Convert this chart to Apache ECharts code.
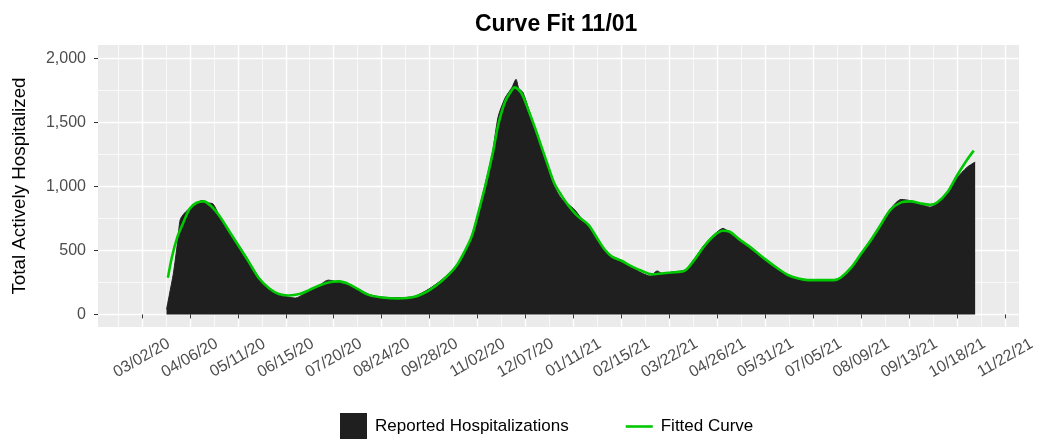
<!DOCTYPE html>
<html>
<head>
<meta charset="utf-8">
<script src="https://cdn.jsdelivr.net/npm/echarts@6/dist/echarts.min.js"></script>
<style>
    html, body { margin: 0; padding: 0; background: #fff; }
    #main { width: 1040px; height: 439px; }
</style>
</head>
<body>
<div id="main"></div>
<script>
// reported daily hospitalizations
var repDates = ['2020-03-20', '2020-03-22', '2020-03-25', '2020-03-28', '2020-03-30', '2020-04-02', '2020-04-06', '2020-04-11',
    '2020-04-15', '2020-04-19', '2020-04-23', '2020-04-28', '2020-05-05', '2020-05-12', '2020-05-19', '2020-05-26',
    '2020-06-03', '2020-06-10', '2020-06-17', '2020-06-22', '2020-06-28', '2020-07-04', '2020-07-10', '2020-07-16',
    '2020-07-23', '2020-07-31', '2020-08-07', '2020-08-15', '2020-08-24', '2020-09-05', '2020-09-17', '2020-09-27',
    '2020-10-07', '2020-10-17', '2020-10-24', '2020-10-29', '2020-11-03', '2020-11-08', '2020-11-13', '2020-11-17',
    '2020-11-22', '2020-11-27', '2020-11-30', '2020-12-02', '2020-12-05', '2020-12-09', '2020-12-14', '2020-12-19',
    '2020-12-23', '2020-12-28', '2021-01-02', '2021-01-07', '2021-01-12', '2021-01-16', '2021-01-22', '2021-01-29',
    '2021-02-03', '2021-02-08', '2021-02-15', '2021-02-22', '2021-03-02', '2021-03-08', '2021-03-13', '2021-03-17',
    '2021-03-23', '2021-04-02', '2021-04-09', '2021-04-16', '2021-04-24', '2021-04-30', '2021-05-05', '2021-05-11',
    '2021-05-21', '2021-05-30', '2021-06-09', '2021-06-16', '2021-06-24', '2021-07-01', '2021-07-11', '2021-07-20',
    '2021-07-25', '2021-08-02', '2021-08-09', '2021-08-16', '2021-08-23', '2021-08-30', '2021-09-07', '2021-09-14',
    '2021-09-21', '2021-09-28', '2021-10-03', '2021-10-11', '2021-10-18', '2021-10-25', '2021-10-31'];
var repValues = [40, 150, 320, 560, 740, 790, 830, 868,
    890, 872, 862, 758, 640, 538, 418, 296,
    198, 152, 136, 128, 158, 195, 232, 268,
    252, 232, 198, 155, 136, 130, 142, 196,
    272, 378, 498, 628, 822, 1040, 1275, 1545,
    1690, 1772, 1836, 1765, 1735, 1610, 1440, 1285,
    1150, 1000, 905, 862, 815, 760, 695, 575,
    500, 455, 422, 372, 322, 300, 340, 318,
    330, 345, 432, 538, 628, 672, 640, 588,
    522, 432, 362, 305, 282, 270, 266, 272,
    285, 368, 482, 588, 702, 822, 898, 888,
    862, 838, 868, 948, 1068, 1148, 1190];

// fitted curve
var fitDates = ['2020-03-21', '2020-03-24', '2020-03-28', '2020-04-01', '2020-04-06', '2020-04-11', '2020-04-16', '2020-04-22',
    '2020-04-28', '2020-05-05', '2020-05-12', '2020-05-19', '2020-05-26', '2020-06-03', '2020-06-10', '2020-06-17',
    '2020-06-25', '2020-07-02', '2020-07-09', '2020-07-16', '2020-07-24', '2020-07-31', '2020-08-07', '2020-08-15',
    '2020-08-24', '2020-09-05', '2020-09-17', '2020-09-27', '2020-10-07', '2020-10-17', '2020-10-24', '2020-10-29',
    '2020-11-03', '2020-11-08', '2020-11-13', '2020-11-17', '2020-11-22', '2020-11-27', '2020-11-29', '2020-12-04',
    '2020-12-09', '2020-12-14', '2020-12-19', '2020-12-24', '2020-12-28', '2021-01-02', '2021-01-07', '2021-01-14',
    '2021-01-22', '2021-01-29', '2021-02-03', '2021-02-08', '2021-02-15', '2021-02-22', '2021-03-02', '2021-03-09',
    '2021-03-16', '2021-03-23', '2021-04-02', '2021-04-09', '2021-04-16', '2021-04-24', '2021-04-30', '2021-05-05',
    '2021-05-11', '2021-05-21', '2021-05-30', '2021-06-09', '2021-06-16', '2021-06-24', '2021-07-01', '2021-07-11',
    '2021-07-20', '2021-07-25', '2021-08-02', '2021-08-09', '2021-08-16', '2021-08-23', '2021-08-30', '2021-09-07',
    '2021-09-14', '2021-09-21', '2021-09-28', '2021-10-03', '2021-10-11', '2021-10-18', '2021-10-25', '2021-10-30'];
var fitValues = [286, 450, 607, 711, 828, 872, 883, 841,
    763, 646, 529, 411, 289, 203, 159, 148,
    159, 190, 224, 250, 258, 237, 195, 151,
    133, 125, 138, 185, 263, 372, 503, 620,
    815, 1023, 1258, 1479, 1661, 1753, 1773, 1727,
    1596, 1453, 1297, 1141, 1023, 932, 854, 768,
    698, 581, 503, 451, 419, 378, 339, 313,
    320, 328, 341, 424, 529, 620, 654, 646,
    594, 516, 438, 359, 310, 280, 268, 268,
    268, 289, 372, 477, 581, 698, 815, 875,
    883, 867, 857, 872, 958, 1089, 1206, 1279];

var xTicks = ['2020-03-02', '2020-04-06', '2020-05-11', '2020-06-15', '2020-07-20', '2020-08-24', '2020-09-28',
    '2020-11-02', '2020-12-07', '2021-01-11', '2021-02-15', '2021-03-22', '2021-04-26', '2021-05-31',
    '2021-07-05', '2021-08-09', '2021-09-13', '2021-10-18', '2021-11-22'];
var yTicks = [0, 500, 1000, 1500, 2000];
var yMinor = [250, 750, 1250, 1750];

function d(s) {
    var p = s.split('-');
    return Date.UTC(+p[0], +p[1] - 1, +p[2]);
}

function pad(n) {
    return n < 10 ? '0' + n : '' + n;
}

function fmtDate(v) {
    var t = new Date(v);
    return pad(t.getUTCMonth() + 1) + '/' + pad(t.getUTCDate()) + '/' + pad(t.getUTCFullYear() % 100);
}

function pair(dates, values) {
    var out = [];
    for (var i = 0; i < dates.length; i++) {
        out.push([d(dates[i]), values[i]]);
    }
    return out;
}

var xTickVals = xTicks.map(d);
// minor grid lines halfway between the labelled dates
var xMinorVals = [xTickVals[0] - (xTickVals[1] - xTickVals[0]) / 2];
for (var i = 1; i < xTickVals.length; i++) {
    xMinorVals.push((xTickVals[i - 1] + xTickVals[i]) / 2);
}

var xMin = d('2020-01-30');
var xMax = d('2021-12-02');
var yMin = -98;
var yMax = 2104;

var myChart = echarts.init(document.getElementById('main'));
var option = {
    animation: false,
    backgroundColor: '#fff',
    textStyle: {
        fontFamily: 'Liberation Sans, Arial, sans-serif'
    },
    title: {
        text: 'Curve Fit 11/01',
        left: 475,
        top: 13,
        padding: 0,
        textStyle: {
            fontSize: 23,
            fontWeight: 'bold',
            color: '#000'
        }
    },
    legend: {
        left: 340,
        top: 413,
        padding: 0,
        itemWidth: 27,
        itemHeight: 27,
        itemGap: 57,
        textStyle: {
            fontSize: 17,
            color: '#000',
            padding: [0, 0, 0, 3]
        },
        data: [
            { name: 'Reported Hospitalizations', icon: 'rect' },
            { name: 'Fitted Curve', icon: 'path://M0,0 H27 V2.6 H0 Z' }
        ]
    },
    grid: {
        left: 98,
        right: 21,
        top: 45,
        bottom: 112,
        show: true,
        backgroundColor: '#ebebeb',
        borderWidth: 0,
        outerBoundsMode: 'none'
    },
    xAxis: [{
        type: 'value',
        min: xMin,
        max: xMax,
        axisLine: { show: false },
        axisTick: {
            show: true,
            customValues: xTickVals,
            length: 4,
            lineStyle: { color: '#333', width: 1 }
        },
        axisLabel: {
            customValues: xTickVals,
            formatter: function (v) { return fmtDate(v); },
            rotate: 30,
            align: 'center',
            verticalAlign: 'middle',
            margin: 31,
            fontSize: 16,
            color: '#4d4d4d',
            hideOverlap: false
        },
        splitLine: {
            show: true,
            lineStyle: { color: '#fff', width: 1.4 }
        }
    }, {
        type: 'value',
        min: xMin,
        max: xMax,
        position: 'bottom',
        axisLine: { show: false },
        axisTick: { show: false, customValues: xMinorVals },
        axisLabel: { show: false, customValues: xMinorVals },
        splitLine: {
            show: true,
            lineStyle: { color: '#fff', width: 0.7 }
        }
    }],
    yAxis: [{
        type: 'value',
        min: yMin,
        max: yMax,
        name: 'Total Actively Hospitalized',
        nameLocation: 'middle',
        nameGap: 69,
        nameTextStyle: {
            fontSize: 18.8,
            color: '#000'
        },
        axisLine: { show: false },
        axisTick: {
            show: true,
            customValues: yTicks,
            length: 4,
            lineStyle: { color: '#333', width: 1 }
        },
        axisLabel: {
            customValues: yTicks,
            formatter: function (v) { return String(v).replace(/\B(?=(\d{3})+(?!\d))/g, ','); },
            margin: 12,
            fontSize: 16,
            color: '#4d4d4d'
        },
        splitLine: {
            show: true,
            lineStyle: { color: '#fff', width: 1.4 }
        }
    }, {
        type: 'value',
        min: yMin,
        max: yMax,
        position: 'left',
        axisLine: { show: false },
        axisTick: { show: false, customValues: yMinor },
        axisLabel: { show: false, customValues: yMinor },
        splitLine: {
            show: true,
            lineStyle: { color: '#fff', width: 0.7 }
        }
    }],
    series: [{
        name: 'Reported Hospitalizations',
        type: 'line',
        xAxisIndex: 0,
        yAxisIndex: 0,
        data: pair(repDates, repValues),
        symbol: 'none',
        smooth: 0.25,
        itemStyle: { color: '#1f1f1f' },
        lineStyle: { color: '#1f1f1f', width: 1 },
        areaStyle: { color: '#1f1f1f', opacity: 1, origin: 0 }
    }, {
        name: 'Fitted Curve',
        type: 'line',
        xAxisIndex: 0,
        yAxisIndex: 0,
        data: pair(fitDates, fitValues),
        symbol: 'none',
        smooth: 0.3,
        itemStyle: { color: '#00c800' },
        lineStyle: { color: '#00c800', width: 2.6 }
    }]
};
myChart.setOption(option);
</script>
</body>
</html>
